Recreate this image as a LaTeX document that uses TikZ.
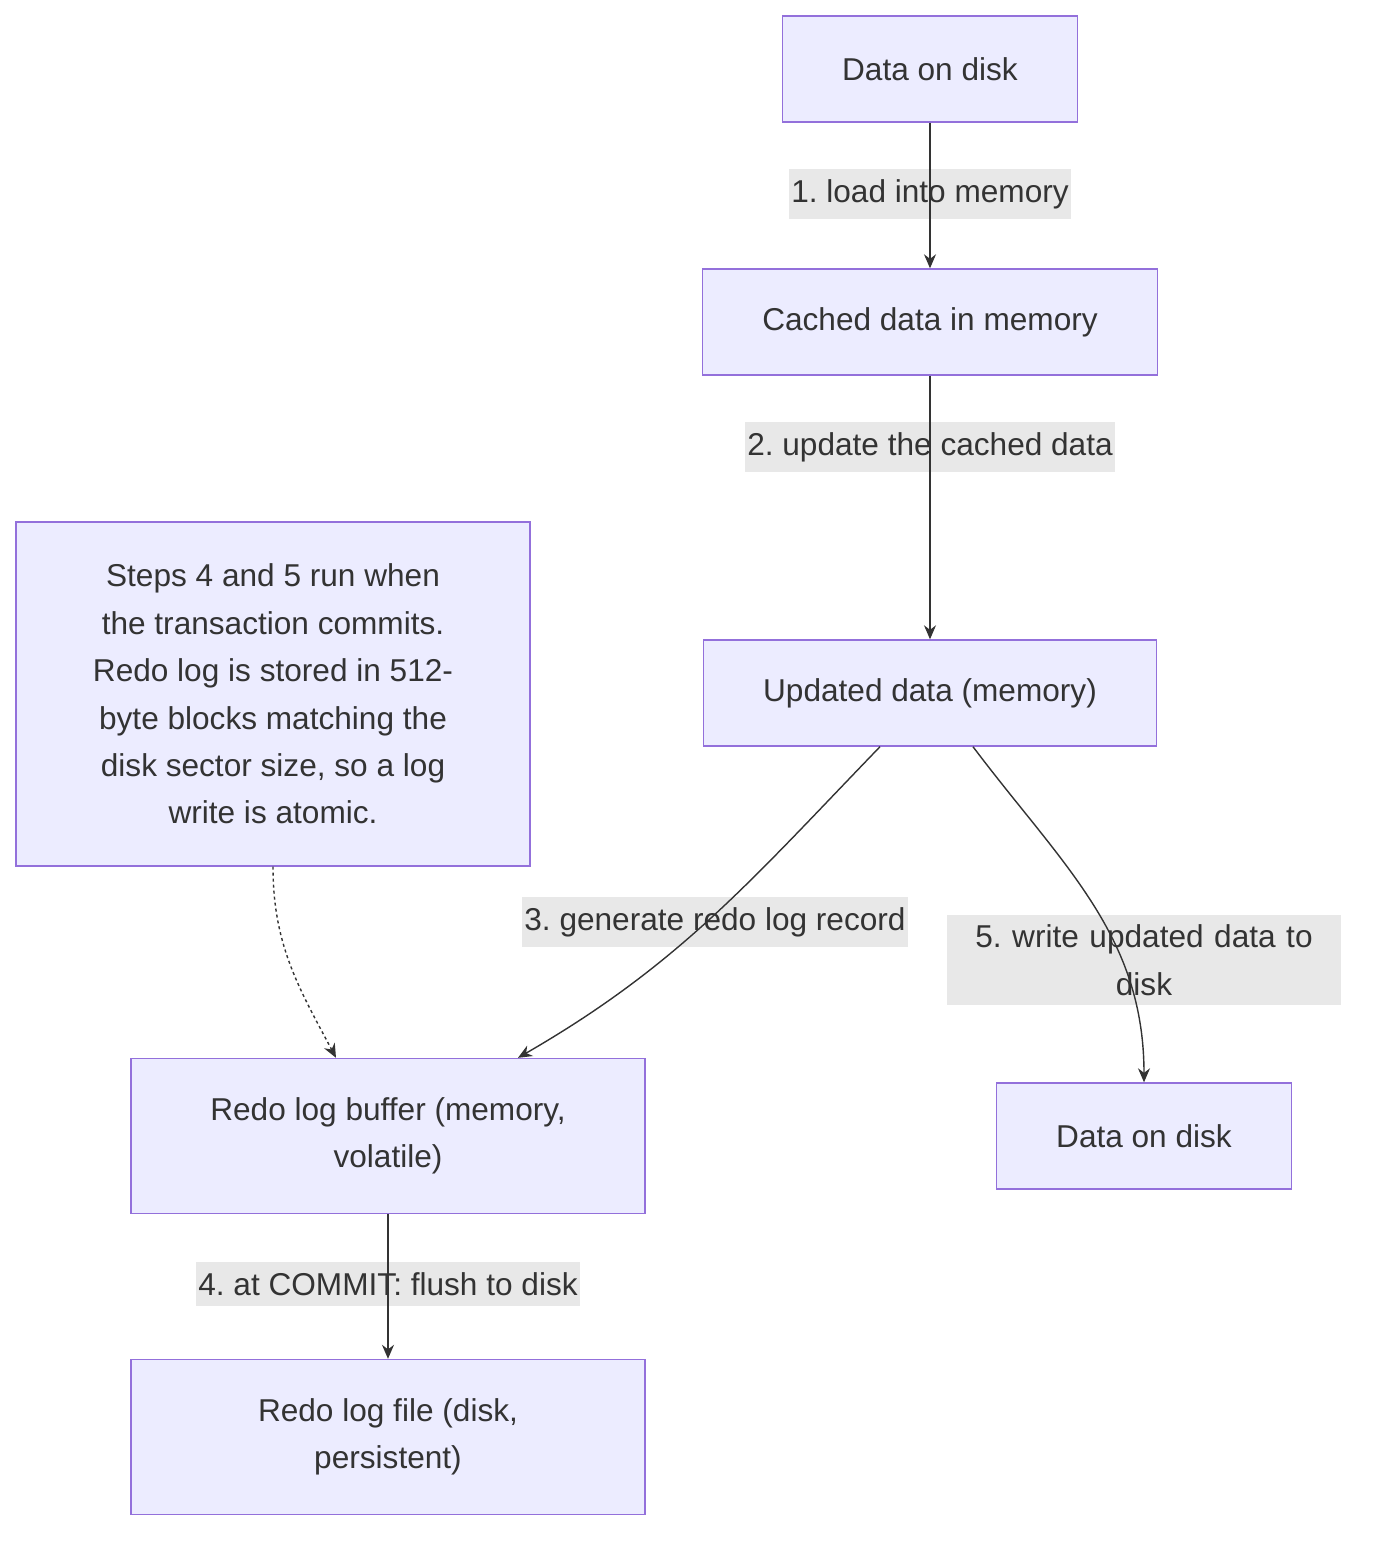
\documentclass[tikz,border=0pt]{standalone}
\usepackage{fontspec}
\setmainfont{Liberation Sans}
\usetikzlibrary{positioning,arrows.meta}
\definecolor{mmFill}{HTML}{ECECFF}
\definecolor{mmLine}{HTML}{9370DB}
\definecolor{mmText}{HTML}{333333}
\definecolor{mmLabel}{HTML}{E8E8E8}
\tikzset{
  box/.style={draw=mmLine, fill=mmFill, line width=0.7pt, text=mmText, align=center,
    minimum height=53pt, font=\fontsize{15.8}{23.7}\selectfont},
  lbl/.style={fill=mmLabel, text=mmText, align=center, inner xsep=1pt, inner ysep=5pt,
    font=\fontsize{15.8}{23.7}\selectfont},
  flow/.style={draw=mmText, line width=0.7pt, -{Stealth[length=7pt,width=6pt]}}
}
\begin{document}
\frenchspacing
\begin{tikzpicture}[x=0.5pt,y=-0.5pt]
  \useasboundingbox (0,0) rectangle (1374,1548);
  % nodes
  \node[box, minimum width=147.5pt] (disk) at (930,69) {Data on disk};
  \node[box, minimum width=227.5pt] (cache) at (930,322) {Cached data in memory};
  \node[box, minimum width=226.5pt] (upd) at (930,693) {Updated data (memory)};
  \node[box, minimum width=257pt, minimum height=172pt] (note) at (273,694)
    {Steps 4 and 5 run when\\the transaction commits.\\Redo log is stored in 512-\\byte blocks matching the\\disk sector size, so a log\\write is atomic.};
  \node[box, minimum width=257pt, minimum height=77.5pt] (buf) at (388,1136) {Redo log buffer (memory,\\volatile)};
  \node[box, minimum width=257pt, minimum height=77.5pt] (file) at (388,1437) {Redo log file (disk,\\persistent)};
  \node[box, minimum width=147.5pt] (disk2) at (1144,1136) {Data on disk};
  % edge labels
  \node[lbl] (l1) at (930,194) {1. load into memory};
  \node[lbl] (l2) at (930,447) {2. update the cached data};
  \node[lbl] (l3) at (715,922) {3. generate redo log record};
  \node[lbl, text width=195pt] (l5) at (1144,960) {5. write updated data to\\disk};
  \node[lbl] (l4) at (388,1284) {4. at COMMIT: flush to disk};
  % edges
  \draw[flow] (disk) -- (cache);
  \draw[flow] (cache) -- (upd);
  \draw[flow] ([xshift=-25pt]upd.south) to[out=-134,in=30] ([xshift=65pt]buf.north);
  \draw[flow] ([xshift=21.5pt]upd.south) to[out=-53,in=90] (disk2.north);
  \draw[flow] (buf) -- (file);
  \draw[flow, dash pattern=on 1.5pt off 1.5pt] (note.south) to[out=-90,in=118] ([xshift=-26pt]buf.north);
\end{tikzpicture}
\end{document}
